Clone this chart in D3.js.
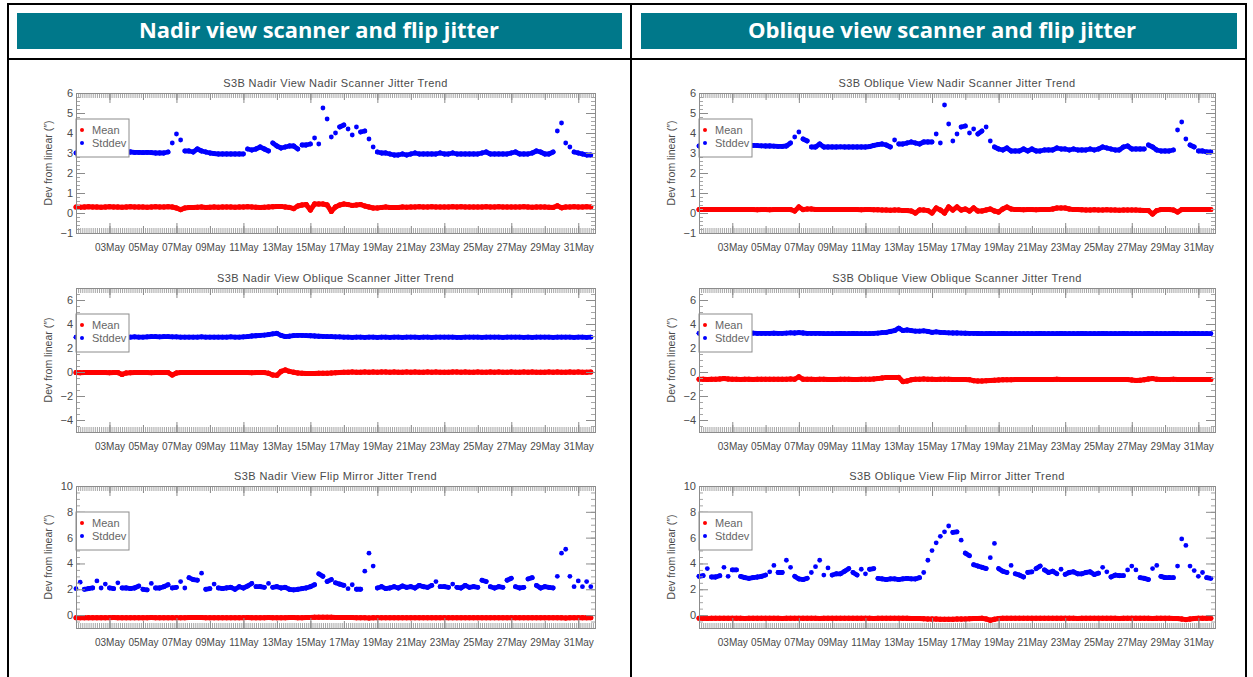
<!DOCTYPE html>
<html>
<head>
<meta charset="utf-8">
<script src="https://cdn.jsdelivr.net/npm/d3@7"></script>
<style>
body { margin: 0; background: #fff; }
</style>
</head>
<body>
<svg id="chart" width="1253" height="677"></svg>
<script>
// column headers
const headers = ["Nadir view scanner and flip jitter", "Oblique view scanner and flip jitter"];
const titles = [
  ["S3B Nadir View Nadir Scanner Jitter Trend", "S3B Nadir View Oblique Scanner Jitter Trend", "S3B Nadir View Flip Mirror Jitter Trend"],
  ["S3B Oblique View Nadir Scanner Jitter Trend", "S3B Oblique View Oblique Scanner Jitter Trend", "S3B Oblique View Flip Mirror Jitter Trend"]
];
const legendLabels = ["Mean", "Stddev"];
const xTickLabels = ["03May","05May","07May","09May","11May","13May","15May","17May","19May","21May","23May","25May","27May","29May","31May"];
const yTicksNadirScan = [-1, 0, 1, 2, 3, 4, 5, 6];
const yTicksObliqueScan = [-4, -2, 0, 2, 4, 6];
const yTicksFlip = [0, 2, 4, 6, 8, 10];

// samples every 6 hours from 01 May, one row = one day
const nadirNadirStd = [
  3.0,3.0,3.02,3.0, 3.0,3.02,3.0,3.0, 3.02,3.03,3.03,3.02, 3.03,3.05,3.03,3.03,
  3.02,3.03,3.02,3.0, 3.0,3.0,3.05,3.5, 3.95,3.65,3.1,3.1, 3.05,3.2,3.1,3.05,
  3.0,2.97,2.95,2.95, 2.95,2.95,2.95,2.95, 2.95,3.2,3.15,3.2, 3.3,3.2,3.1,3.5,
  3.35,3.25,3.3,3.35, 3.35,3.2,3.4,3.4, 3.45,3.75,3.45,5.25, 4.7,3.8,4.0,4.3,
  4.4,4.2,3.9,4.3, 4.05,4.1,3.7,3.3, 3.05,3.0,3.0,2.95, 2.9,2.9,2.95,2.9,
  2.95,3.0,2.95,2.95, 2.95,2.95,2.95,3.0, 2.95,2.95,3.0,2.95, 2.95,2.95,2.95,2.95,
  2.95,3.0,3.05,2.95, 2.95,2.95,2.95,2.95, 3.0,3.05,2.95,2.95, 2.95,3.0,3.1,3.05,
  2.95,2.95,3.05,4.1, 4.5,3.5,3.3,3.05, 3.0,2.95,2.9,2.9
];
const nadirNadirMean = [
  .3,.29,.3,.31, .3,.3,.29,.3, .31,.3,.3,.29, .3,.31,.3,.3,
  .3,.29,.3,.31, .3,.3,.31,.3, .25,.17,.25,.27, .28,.29,.3,.28,
  .29,.3,.29,.3, .3,.3,.29,.3, .3,.31,.3,.29, .28,.29,.3,.31,
  .32,.33,.3,.28, .22,.35,.4,.42, .15,.45,.45,.45, .4,.08,.3,.4,
  .45,.42,.38,.4, .42,.35,.3,.25, .25,.28,.3,.28, .27,.28,.3,.29,
  .3,.3,.31,.3, .3,.31,.3,.3, .3,.3,.31,.3, .31,.3,.3,.3,
  .3,.3,.31,.3, .3,.31,.3,.3, .3,.3,.3,.31, .3,.29,.3,.3,
  .3,.29,.28,.36, .26,.3,.3,.31, .3,.3,.31,.3
];
const nadirObliqueStd = [
  2.9,2.9,2.92,2.9, 2.9,2.92,2.93,2.95, 2.95,2.92,2.9,2.9, 2.9,2.9,2.92,2.9,
  2.9,2.92,2.95,2.95, 2.93,2.95,2.95,2.93, 2.92,2.9,2.9,2.9, 2.9,2.9,2.92,2.9,
  2.9,2.9,2.9,2.9, 2.9,2.92,2.9,2.9, 2.92,2.95,3.0,3.02, 3.05,3.08,3.12,3.18,
  3.22,3.05,2.95,2.98, 3.03,3.05,3.05,3.03, 3.02,3.0,2.98,2.97, 2.95,2.95,2.93,2.92,
  2.9,2.9,2.88,2.9, 2.9,2.89,2.9,2.9, 2.88,2.9,2.9,2.89, 2.9,2.9,2.88,2.9,
  2.9,2.9,2.89,2.9, 2.9,2.88,2.9,2.9, 2.9,2.9,2.9,2.89, 2.88,2.9,2.9,2.9,
  2.9,2.89,2.9,2.9, 2.9,2.9,2.88,2.9, 2.9,2.9,2.9,2.89, 2.9,2.88,2.9,2.9,
  2.9,2.9,2.89,2.9, 2.9,2.9,2.9,2.88, 2.9,2.9,2.89,2.9
];
const nadirObliqueMean = [
  -.05,-.06,-.05,-.05, -.05,-.04,-.05,-.05, -.06,-.05,-.05,-.2, -.08,-.06,-.05,-.05,
  -.05,-.05,-.06,-.05, -.05,-.05,-.05,-.25, -.08,-.05,-.05,-.05, -.04,-.05,-.05,-.05,
  -.05,-.04,-.05,-.05, -.05,-.05,-.04,-.05, -.05,-.05,-.06,-.05, -.05,-.05,-.1,-.25,
  -.28,.05,.17,.05, -.02,-.08,-.1,-.12, -.12,-.12,-.1,-.1, -.1,-.08,-.06,-.05,
  -.03,-.02,0,-.02, -.02,0,-.02,-.01, -.02,-.01,0,-.02, -.01,-.02,-.02,0,
  -.02,-.01,-.02,-.02, 0,-.02,-.01,-.02, -.02,-.02,0,-.01, -.02,-.01,-.02,-.02,
  0,-.02,-.02,-.01, -.02,0,-.02,-.02, -.01,-.02,-.02,0, -.02,-.01,-.02,-.02,
  -.02,0,-.02,-.01, -.02,-.02,-.01,-.02, 0,-.02,-.02,-.01
];
const nadirFlipStd = [
  2.05,2.55,2.0,2.05, 2.1,2.65,2.1,2.4, 2.1,2.05,2.5,2.1, 2.1,2.05,2.1,2.25,
  2.0,1.95,2.45,2.1, 2.1,2.2,2.35,2.1, 2.15,2.6,2.1,2.9, 2.75,2.7,3.25,2.0,
  2.05,2.4,2.1,2.05, 2.1,2.15,2.0,2.2, 2.1,2.25,2.45,2.2, 2.2,2.15,2.45,2.15,
  2.2,2.1,2.15,2.0, 1.95,2.0,2.05,2.1, 2.2,2.35,3.2,3.0, 2.6,2.75,2.5,2.4,
  2.3,2.05,2.35,2.0, 2.0,3.4,4.8,3.8, 2.1,2.2,2.05,2.1, 2.2,2.1,2.25,2.15,
  2.2,2.1,2.3,2.2, 2.15,2.3,2.6,2.2, 2.2,2.15,2.4,2.15, 2.1,2.3,2.15,2.2,
  2.15,2.7,2.6,2.2, 2.1,2.2,2.15,2.7, 2.85,2.2,2.1,2.15, 2.8,2.9,2.3,2.1,
  2.2,2.15,2.1,3.0, 4.8,5.1,3.0,2.2, 2.65,2.2,2.6,2.2
];
const nadirFlipMean = [
  -.2,-.21,-.2,-.2, -.2,-.2,-.21,-.2, -.2,-.19,-.2,-.2, -.2,-.2,-.2,-.21,
  -.2,-.2,-.19,-.2, -.2,-.21,-.2,-.2, -.2,-.2,-.2,-.19, -.19,-.18,-.19,-.2,
  -.2,-.2,-.21,-.2, -.2,-.2,-.2,-.2, -.2,-.19,-.2,-.2, -.2,-.2,-.19,-.2,
  -.2,-.2,-.2,-.19, -.19,-.2,-.2,-.19, -.18,-.17,-.17,-.17, -.17,-.17,-.18,-.18,
  -.18,-.19,-.19,-.2, -.2,-.2,-.22,-.21, -.2,-.2,-.2,-.2, -.2,-.2,-.2,-.2,
  -.2,-.21,-.2,-.2, -.2,-.2,-.2,-.2, -.2,-.2,-.2,-.21, -.2,-.2,-.2,-.2,
  -.2,-.2,-.2,-.2, -.21,-.2,-.2,-.2, -.2,-.2,-.2,-.2, -.2,-.2,-.21,-.2,
  -.2,-.2,-.2,-.2, -.21,-.22,-.2,-.2, -.2,-.2,-.2,-.2
];
const obliqueNadirStd = [
  3.35,3.36,3.35,3.37, 3.36,3.35,3.36,3.37, 3.37,3.38,3.37,3.36, 3.38,3.38,3.37,3.36,
  3.35,3.35,3.34,3.33, 3.33,3.35,3.5,3.8, 4.05,3.7,3.6,3.3, 3.3,3.45,3.3,3.3,
  3.3,3.3,3.31,3.3, 3.3,3.3,3.3,3.3, 3.3,3.32,3.38,3.42, 3.45,3.4,3.3,3.65,
  3.45,3.45,3.5,3.55, 3.5,3.45,3.55,3.55, 3.55,3.95,3.5,5.4, 4.45,3.6,3.95,4.3,
  4.35,4.0,4.2,3.95, 4.1,4.3,3.6,3.3, 3.2,3.15,3.25,3.1, 3.1,3.1,3.2,3.1,
  3.2,3.1,3.1,3.15, 3.15,3.15,3.25,3.2, 3.2,3.15,3.2,3.15, 3.15,3.15,3.2,3.15,
  3.2,3.3,3.25,3.2, 3.15,3.15,3.3,3.35, 3.2,3.2,3.2,3.2, 3.4,3.3,3.15,3.1,
  3.1,3.1,3.15,4.15, 4.55,3.7,3.4,3.3, 3.1,3.1,3.05,3.05
];
const obliqueNadirMean = [
  .17,.17,.18,.17, .17,.18,.17,.17, .18,.17,.17,.18, .17,.17,.16,.17,
  .17,.16,.17,.17, .17,.17,.17,.1, .3,.17,.2,.2, .18,.17,.17,.18,
  .17,.17,.18,.17, .17,.17,.17,.16, .17,.17,.16,.16, .15,.15,.14,.15,
  .15,.12,.12,.1, 0,.15,.15,.12, 0,.25,.15,0, .3,.15,.3,.15,
  .2,.1,.25,.1, .1,.15,.2,.1, .05,.2,.3,.2, .17,.17,.16,.17,
  .17,.16,.17,.17, .17,.2,.25,.25, .25,.2,.17,.17, .16,.15,.15,.16,
  .15,.15,.16,.15, .15,.14,.15,.15, .15,.15,.14,.13, .12,-.05,.12,.17,
  .17,.17,.15,.05, .17,.17,.18,.17, .17,.18,.17,.17
];
const obliqueObliqueStd = [
  3.22,3.22,3.24,3.22, 3.22,3.23,3.22,3.22, 3.23,3.22,3.22,3.22, 3.22,3.24,3.22,3.22,
  3.22,3.22,3.23,3.22, 3.22,3.24,3.26,3.25, 3.28,3.25,3.22,3.22, 3.22,3.22,3.2,3.2,
  3.2,3.2,3.21,3.2, 3.2,3.21,3.2,3.2, 3.2,3.2,3.22,3.24, 3.28,3.3,3.38,3.45,
  3.65,3.45,3.5,3.45, 3.4,3.4,3.42,3.38, 3.3,3.35,3.3,3.28, 3.26,3.25,3.25,3.24,
  3.23,3.22,3.22,3.21, 3.2,3.2,3.21,3.2, 3.2,3.21,3.2,3.2, 3.2,3.2,3.19,3.2,
  3.2,3.2,3.21,3.2, 3.2,3.2,3.2,3.21, 3.2,3.2,3.2,3.2, 3.21,3.2,3.2,3.2,
  3.2,3.21,3.2,3.2, 3.2,3.2,3.21,3.2, 3.2,3.2,3.2,3.2, 3.21,3.2,3.2,3.2,
  3.2,3.2,3.21,3.2, 3.2,3.2,3.2,3.21, 3.2,3.2,3.2,3.2
];
const obliqueObliqueMean = [
  -.6,-.6,-.62,-.6, -.6,-.58,-.55,-.58, -.6,-.6,-.62,-.6, -.6,-.62,-.6,-.6,
  -.6,-.6,-.6,-.6, -.6,-.6,-.58,-.6, -.4,-.6,-.6,-.6, -.62,-.6,-.6,-.62,
  -.62,-.62,-.6,-.6, -.6,-.62,-.62,-.6, -.6,-.6,-.58,-.55, -.5,-.45,-.45,-.45,
  -.45,-.8,-.75,-.65, -.6,-.6,-.58,-.6, -.6,-.62,-.6,-.6, -.6,-.62,-.62,-.62,
  -.62,-.65,-.72,-.75, -.75,-.72,-.7,-.68, -.66,-.65,-.65,-.64, -.62,-.62,-.63,-.62,
  -.62,-.63,-.62,-.62, -.62,-.62,-.61,-.62, -.62,-.63,-.62,-.62, -.62,-.62,-.62,-.63,
  -.62,-.62,-.63,-.62, -.62,-.63,-.62,-.62, -.66,-.7,-.68,-.65, -.58,-.55,-.6,-.62,
  -.62,-.62,-.6,-.62, -.62,-.63,-.62,-.62, -.62,-.62,-.63,-.62
];
const obliqueFlipStd = [
  3.0,3.05,3.6,2.95, 2.95,3.05,3.7,3.0, 3.5,3.5,3.0,2.9, 2.85,2.9,2.95,3.0,
  3.1,3.35,3.85,3.3, 3.3,4.25,3.7,3.0, 2.8,2.75,2.85,3.3, 3.75,4.25,3.1,3.65,
  3.1,3.2,3.2,3.4, 3.6,3.3,3.1,3.55, 3.2,3.55,3.6,2.85, 2.8,2.75,2.8,2.8,
  2.75,2.8,2.85,2.8, 2.8,2.9,3.3,4.25, 5.0,5.6,6.1,6.45, 6.9,6.4,6.45,5.8,
  4.8,4.6,3.9,3.8, 3.7,3.6,4.45,5.55, 3.6,3.4,3.3,3.85, 3.2,3.1,2.95,3.3,
  3.35,3.6,3.8,3.5, 3.3,3.4,3.2,3.55, 3.15,3.3,3.35,3.2, 3.2,3.3,3.35,3.15,
  3.25,3.7,3.35,2.95, 3.1,3.05,3.05,3.5, 3.8,3.5,2.9,2.85, 2.75,3.6,3.85,3.0,
  2.9,2.9,2.9,3.8, 5.9,5.4,3.8,3.45, 3.0,3.3,2.9,2.85
];
const obliqueFlipMean = [
  -.25,-.25,-.26,-.25, -.25,-.24,-.25,-.25, -.25,-.25,-.25,-.26, -.25,-.25,-.24,-.25,
  -.25,-.25,-.25,-.25, -.26,-.25,-.25,-.25, -.25,-.25,-.24,-.25, -.25,-.26,-.25,-.25,
  -.25,-.25,-.25,-.24, -.25,-.25,-.25,-.25, -.25,-.25,-.26,-.25, -.25,-.25,-.25,-.25,
  -.25,-.25,-.25,-.26, -.26,-.27,-.28,-.3, -.3,-.31,-.32,-.32, -.32,-.32,-.31,-.3,
  -.3,-.28,-.27,-.26, -.25,-.3,-.4,-.32, -.27,-.25,-.25,-.25, -.25,-.25,-.24,-.25,
  -.25,-.25,-.25,-.25, -.25,-.24,-.25,-.25, -.25,-.25,-.25,-.26, -.25,-.25,-.25,-.25,
  -.25,-.25,-.25,-.25, -.25,-.26,-.25,-.25, -.25,-.25,-.25,-.25, -.25,-.26,-.25,-.25,
  -.25,-.25,-.26,-.27, -.3,-.35,-.3,-.26, -.25,-.25,-.25,-.25
];

const textColor = "#4a4a4a";
const axisColor = "#8c8c8c";
const minorColor = "#a6a6a6";
const labelFont = "'Liberation Sans', Arial, sans-serif";

const start = new Date(Date.UTC(2019, 4, 1));
const end = new Date(Date.UTC(2019, 5, 1));
const sampleTimes = nadirNadirStd.map((v, i) => new Date(start.getTime() + i * 6 * 3600e3));
const parseLabel = d3.utcParse("%d%b%Y");
const xLabelDates = xTickLabels.map(s => parseLabel(s + "2019"));

const cols = [{x0: 76, x1: 595}, {x0: 699, x1: 1215}];
const rows = [
  {y0: 93, y1: 233, domain: [-1, 6], ticks: yTicksNadirScan, minor: 0.2},
  {y0: 288, y1: 432, domain: [-5, 7], ticks: yTicksObliqueScan, minor: 0.5},
  {y0: 486, y1: 628, domain: [-1, 10], ticks: yTicksFlip, minor: 0.5}
];
const series = [
  [[nadirNadirMean, nadirNadirStd], [nadirObliqueMean, nadirObliqueStd], [nadirFlipMean, nadirFlipStd]],
  [[obliqueNadirMean, obliqueNadirStd], [obliqueObliqueMean, obliqueObliqueStd], [obliqueFlipMean, obliqueFlipStd]]
];

const svg = d3.select("#chart");
svg.append("rect").attr("width", 1253).attr("height", 677).attr("fill", "#fff");

// table lines
const table = svg.append("g").attr("stroke", "#000").attr("stroke-width", 2);
table.append("line").attr("x1", 7).attr("x2", 1247).attr("y1", 4).attr("y2", 4);
table.append("line").attr("x1", 7).attr("x2", 1247).attr("y1", 59).attr("y2", 59);
[8, 631, 1246].forEach(x => table.append("line").attr("x1", x).attr("x2", x).attr("y1", 3).attr("y2", 677));

// header bars
const headerBoxes = [{x0: 17, x1: 622, w: 360, cx: 319}, {x0: 641, x1: 1237, w: 388, cx: 942}];
headers.forEach((h, i) => {
  const b = headerBoxes[i];
  svg.append("rect").attr("x", b.x0).attr("y", 13).attr("width", b.x1 - b.x0).attr("height", 36).attr("fill", "#00788a");
  svg.append("text").attr("x", b.cx).attr("y", 38).attr("text-anchor", "middle")
    .attr("font-family", "'Open Sans', 'Noto Sans', sans-serif").attr("font-weight", 700).attr("font-size", 20.5)
    .attr("textLength", b.w).attr("lengthAdjust", "spacingAndGlyphs")
    .attr("fill", "#fff").text(h);
});

function styleAxis(sel, color, size) {
  sel.attr("font-family", null).attr("font-size", null);
  sel.select(".domain").remove();
  sel.selectAll("line").attr("stroke", color);
  sel.selectAll("text").attr("fill", textColor).attr("font-family", labelFont).attr("font-size", size);
}

// dots, with neighbouring dots joined where they sit close together
function drawSeries(g, vals, x, y, color, r, maxJump) {
  const pts = vals.map((v, i) => [x(sampleTimes[i]), y(v)]);
  g.append("g").selectAll("line")
    .data(d3.pairs(pts).filter(([a, b]) => Math.abs(a[1] - b[1]) <= maxJump))
    .join("line")
    .attr("x1", d => d[0][0]).attr("y1", d => d[0][1])
    .attr("x2", d => d[1][0]).attr("y2", d => d[1][1])
    .attr("stroke", color).attr("stroke-width", r * 2).attr("stroke-linecap", "round");
  g.append("g").selectAll("circle").data(pts).join("circle")
    .attr("cx", d => d[0]).attr("cy", d => d[1]).attr("r", r).attr("fill", color);
}

function drawPanel(c, r) {
  const col = cols[c], row = rows[r];
  const [mean, std] = series[c][r];
  const g = svg.append("g");
  const x = d3.scaleUtc().domain([start, end]).range([col.x0, col.x1]);
  const y = d3.scaleLinear().domain(row.domain).range([row.y1, row.y0]);

  // data
  drawSeries(g, mean, x, y, "#ff0000", 2.5, 10);
  drawSeries(g, std, x, y, "#0000ff", 2.4, 3);

  // x ticks: minor every 3 hours, every 2 days, every 4 days
  const minorX = d3.utcHour.every(3).range(start, end);
  const bigX = xLabelDates.filter((d, i) => i % 2 === 0);
  [[minorX, 5, minorColor], [xLabelDates, 7, axisColor], [bigX, 10, axisColor]].forEach(([vals, len, color]) => {
    g.append("g").attr("transform", `translate(0,${row.y1})`)
      .call(d3.axisBottom(x).tickValues(vals).tickSize(-len).tickFormat(""))
      .call(s => styleAxis(s, color, 10));
    g.append("g").attr("transform", `translate(0,${row.y0})`)
      .call(d3.axisTop(x).tickValues(vals).tickSize(-len).tickFormat(""))
      .call(s => styleAxis(s, color, 10));
  });
  g.append("g").attr("transform", `translate(0,${row.y1})`)
    .call(d3.axisBottom(x).tickValues(xLabelDates).tickSize(0).tickPadding(11).tickFormat((d, i) => xTickLabels[i]))
    .call(s => styleAxis(s, axisColor, 10));

  // y ticks
  const minorY = d3.range(row.domain[0], row.domain[1] + 1e-6, row.minor);
  g.append("g").attr("transform", `translate(${col.x0},0)`)
    .call(d3.axisLeft(y).tickValues(minorY).tickSize(-4).tickFormat(""))
    .call(s => styleAxis(s, minorColor, 11));
  g.append("g").attr("transform", `translate(${col.x1},0)`)
    .call(d3.axisRight(y).tickValues(minorY).tickSize(-4).tickFormat(""))
    .call(s => styleAxis(s, minorColor, 11));
  g.append("g").attr("transform", `translate(${col.x0},0)`)
    .call(d3.axisLeft(y).tickValues(row.ticks).tickSize(-9).tickPadding(3).tickFormat(d3.format("d")))
    .call(s => styleAxis(s, axisColor, 11));
  g.append("g").attr("transform", `translate(${col.x1},0)`)
    .call(d3.axisRight(y).tickValues(row.ticks).tickSize(-9).tickFormat(""))
    .call(s => styleAxis(s, axisColor, 11));

  // legend
  const lg = g.append("g").attr("transform", `translate(${col.x0},${row.y0 + 26})`);
  lg.append("rect").attr("width", 53).attr("height", 38).attr("fill", "#fff").attr("stroke", axisColor);
  ["#ff0000", "#0000ff"].forEach((color, i) => {
    lg.append("circle").attr("cx", 6).attr("cy", 11 + i * 13).attr("r", 2).attr("fill", color);
    lg.append("text").attr("x", 16).attr("y", 15 + i * 13).attr("font-family", labelFont)
      .attr("font-size", 11).attr("fill", "#666").text(legendLabels[i]);
  });

  // frame
  g.append("rect").attr("x", col.x0 + 0.5).attr("y", row.y0 + 0.5)
    .attr("width", col.x1 - col.x0).attr("height", row.y1 - row.y0)
    .attr("fill", "none").attr("stroke", axisColor);

  // title and y label
  g.append("text").attr("x", (col.x0 + col.x1) / 2).attr("y", row.y0 - 6).attr("text-anchor", "middle")
    .attr("font-family", labelFont).attr("font-size", 11).attr("letter-spacing", 0.4)
    .attr("fill", textColor).text(titles[c][r]);
  g.append("text").attr("transform", `translate(${col.x0 - 24},${(row.y0 + row.y1) / 2}) rotate(-90)`)
    .attr("text-anchor", "middle").attr("font-family", labelFont).attr("font-size", 10.5)
    .attr("fill", textColor).text("Dev from linear (\u2033)");
}

for (let c = 0; c < 2; c++) for (let r = 0; r < 3; r++) drawPanel(c, r);
</script>
</body>
</html>
